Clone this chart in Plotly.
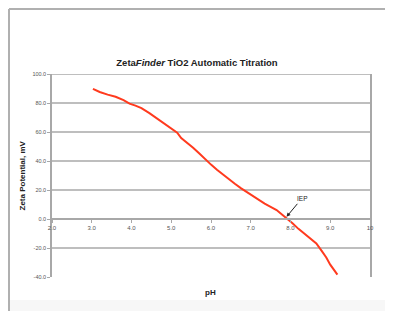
import plotly.graph_objects as go

# ---- data ----
ph = [3.03, 3.2, 3.4, 3.6, 3.8, 3.95, 4.1, 4.25, 4.45, 4.62, 4.8, 5.0, 5.15, 5.25,
      5.4, 5.55, 5.7, 5.85, 6.0, 6.15, 6.3, 6.45, 6.6, 6.75, 6.9, 7.05, 7.2, 7.35,
      7.5, 7.65, 7.8, 7.9, 8.05, 8.2, 8.35, 8.5, 8.65, 8.78, 8.9, 9.0, 9.1, 9.18]
zeta = [89.7, 87.6, 85.8, 84.3, 82.0, 79.6, 78.2, 76.5, 73.0, 69.7, 66.8, 62.8, 59.5, 55.8,
        52.6, 49.2, 45.3, 41.2, 37.5, 34.0, 30.6, 27.2, 24.3, 21.3, 18.6, 15.4, 13.0, 10.6,
        8.4, 6.2, 2.8, 0.7, -3.0, -6.8, -10.2, -13.3, -16.8, -21.8, -26.5, -31.5, -35.3, -38.4]

x_ticks = [2, 3, 4, 5, 6, 7, 8, 9, 10]
x_tick_labels = ["2.0", "3.0", "4.0", "5.0", "6.0", "7.0", "8.0", "9.0", "10"]
y_ticks = [-40, -20, 0, 20, 40, 60, 80, 100]
y_tick_labels = ["-40.0", "-20.0", "0.0", "20.0", "40.0", "60.0", "80.0", "100.0"]

iep_ph = 7.9
iep_zeta = 1.5

# page has an 8px body margin; lay out in screen pixels and compensate
OFF = 8
W, H = 393 - OFF, 311 - OFF
L, T = 52 - OFF, 74 - OFF
R = W - (370 - OFF)
B = H - (277 - OFF)
pw, ph_h = W - L - R, H - T - B


def px_x(p):
    return (p - OFF - L) / pw


def px_y(p):
    return (H - B - (p - OFF)) / ph_h


grid = "#a8a8a8"
fig = go.Figure()
fig.add_trace(go.Scatter(x=ph, y=zeta, mode="lines",
                         line=dict(color="#ff3a1e", width=2),
                         hoverinfo="skip", showlegend=False))

ymin, ymax = min(y_ticks), max(y_ticks)
shapes = []
for v in y_ticks:
    if v > ymin and v != 0:
        shapes.append(dict(type="line", xref="paper", yref="y", x0=0, x1=1, y0=v, y1=v,
                           line=dict(color=grid, width=1.5), layer="below"))
# outer frame (as close to the page edge as the page allows)
shapes.append(dict(type="line", xref="paper", yref="paper", x0=px_x(9), x1=px_x(400),
                   y0=px_y(9), y1=px_y(9), line=dict(color="#b0b0b0", width=2)))
shapes.append(dict(type="line", xref="paper", yref="paper", x0=px_x(9), x1=px_x(9),
                   y0=px_y(9), y1=px_y(315), line=dict(color="#b0b0b0", width=2)))
shapes.append(dict(type="rect", xref="paper", yref="paper", x0=px_x(10), x1=px_x(400),
                   y0=px_y(300), y1=px_y(315), line=dict(width=0), fillcolor="#f7f7f7",
                   layer="below"))

fig.update_layout(
    width=W, height=H,
    margin=dict(l=L, r=R, t=T, b=B),
    paper_bgcolor="white", plot_bgcolor="white",
    font=dict(family="Liberation Sans, Arial, sans-serif", color="#333"),
    title=dict(text="<b>Zeta<i>Finder</i> TiO2 Automatic Titration</b>",
               x=(197 - OFF) / W, xanchor="center", y=1 - (63 - OFF) / H, yanchor="middle",
               font=dict(size=9.5, color="#222")),
    shapes=shapes,
    xaxis=dict(range=[2, 10], tickvals=x_ticks, ticktext=x_tick_labels,
               anchor="free", position=(0 - ymin) / (ymax - ymin),
               showgrid=False, zeroline=False, showline=True, linecolor=grid, linewidth=1.5,
               ticks="outside", ticklen=3, tickcolor=grid, tickwidth=1,
               tickfont=dict(size=6, color="#555")),
    yaxis=dict(range=[ymin, ymax], tickvals=y_ticks, ticktext=y_tick_labels,
               domain=[0, 1], showgrid=False, zeroline=False,
               showline=True, linecolor=grid, linewidth=1.5, mirror=True,
               ticks="outside", ticklen=3, tickcolor=grid,
               tickfont=dict(size=5.5, color="#555")),
    annotations=[
        dict(text="<b>Zeta Potential, mV</b>", xref="paper", yref="paper",
             x=px_x(22), y=0.5, textangle=-90, showarrow=False,
             font=dict(size=8, color="#222"), xanchor="center", yanchor="middle"),
        dict(text="<b>pH</b>", xref="paper", yref="paper", x=px_x(210), y=px_y(292),
             showarrow=False, font=dict(size=8, color="#222"),
             xanchor="center", yanchor="middle"),
        dict(text="IEP", x=iep_ph, y=iep_zeta, xref="x", yref="y",
             showarrow=True, arrowhead=2, arrowsize=0.8, arrowwidth=1, arrowcolor="#222",
             ax=15, ay=-18, font=dict(size=6.5, color="#222")),
    ],
)

fig.write_html("out.html")
